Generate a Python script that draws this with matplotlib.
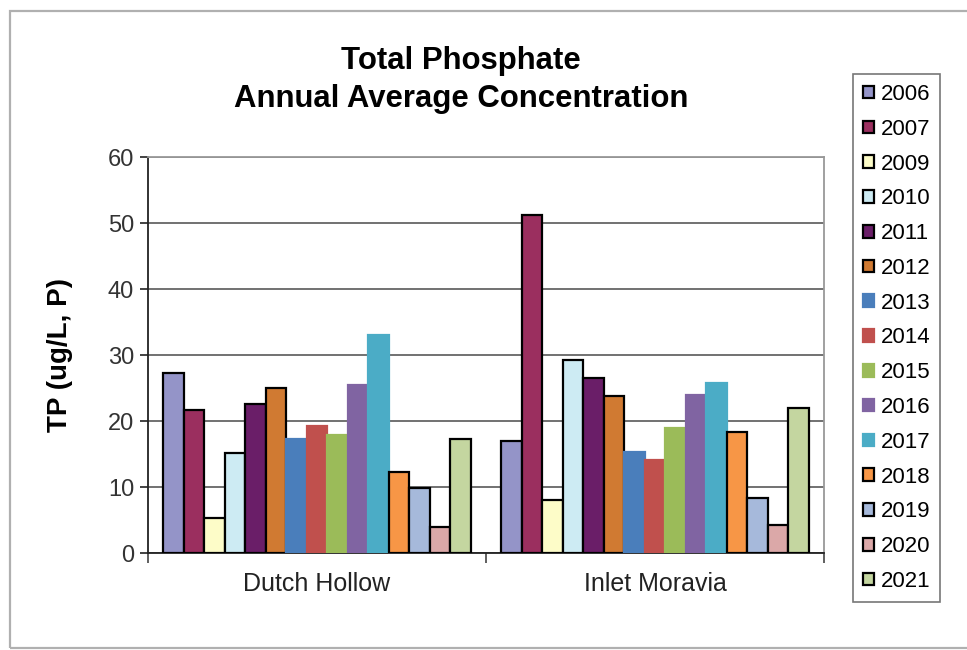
#!/usr/bin/env python

import matplotlib
matplotlib.use("Agg")
import matplotlib.pyplot as plt
from matplotlib.patches import Rectangle
import numpy as np

plt.rcParams['font.family'] = ['Liberation Sans', 'DejaVu Sans']

SITES = ['Dutch Hollow', 'Inlet Moravia']
YEARS = ['2006', '2007', '2009', '2010', '2011', '2012', '2013', '2014',
         '2015', '2016', '2017', '2018', '2019', '2020', '2021']
DUTCH_HOLLOW = [27.3, 21.7, 5.3, 15.1, 22.6, 25.0, 17.3, 19.2,
                17.9, 25.4, 33.0, 12.2, 9.8, 3.9, 17.3]
INLET_MORAVIA = [16.9, 51.2, 8.1, 29.3, 26.5, 23.8, 15.3, 14.1,
                 19.0, 24.0, 25.7, 18.4, 8.4, 4.2, 21.9]
COLORES = ['#9494c8', '#9b2f5f', '#fdfcc8', '#cdebf3', '#6a1e68', '#d07a32',
           '#4a7ebb', '#c0504d', '#9bbb59', '#8064a2', '#4bacc6', '#f79646',
           '#a6b9db', '#dba8a8', '#c4d6a0']
# años sin borde negro
SIN_BORDE = ['2013', '2014', '2015', '2016', '2017']


def generar_grafica():
    fig = plt.figure(figsize=(9.67, 6.5), dpi=100)
    ax = fig.add_axes([148 / 967, 1 - 553 / 650, 676 / 967, 396 / 650])

    x = np.arange(len(SITES))
    ancho = 0.0607
    n = len(YEARS)
    for i, anio in enumerate(YEARS):
        valores = [DUTCH_HOLLOW[i], INLET_MORAVIA[i]]
        borde = COLORES[i] if anio in SIN_BORDE else 'black'
        ax.bar(x + (i - (n - 1) / 2) * ancho, valores, ancho,
               color=COLORES[i], edgecolor=borde, linewidth=1.6,
               label=anio, zorder=3)

    ax.set_xlim(-0.5, 1.5)
    ax.set_ylim(0, 60)
    ax.set_yticks(range(0, 61, 10))
    ax.yaxis.grid(True, color='#666666', linewidth=1.3, zorder=0)
    ax.tick_params(axis='y', labelsize=17, length=6, width=1.2, direction='out',
                   pad=4, colors='#222222', labelcolor='#333333')

    ax.set_xticks(x)
    ax.set_xticklabels(SITES, fontsize=18, color='#222222')
    ax.tick_params(axis='x', length=0, pad=14)
    ax.set_xticks([-0.5, 0.5, 1.5], minor=True)
    ax.tick_params(axis='x', which='minor', length=7, width=1.2, color='#444444')

    for lado in ['top', 'right']:
        ax.spines[lado].set_color('#999999')
        ax.spines[lado].set_linewidth(1.3)
    for lado in ['left', 'bottom']:
        ax.spines[lado].set_color('#222222')
        ax.spines[lado].set_linewidth(1.3)

    ax.set_ylabel('TP (ug/L, P)', fontsize=20, fontweight='bold')
    ax.yaxis.set_label_coords(-0.111, 0.5)

    fig.text(461 / 967, 1 - 61 / 650, 'Total Phosphate', ha='center', va='center',
             fontsize=22.4, fontweight='bold')
    fig.text(461 / 967, 1 - 99 / 650, 'Annual Average Concentration', ha='center',
             va='center', fontsize=22.4, fontweight='bold')

    leg = fig.legend(loc='upper left', bbox_to_anchor=(853 / 967, 1 - 74 / 650),
                     fontsize=16, frameon=True, fancybox=False, borderaxespad=0,
                     handlelength=0.5, handleheight=0.5, handletextpad=0.3,
                     labelspacing=0.62, borderpad=0.45)
    leg.get_frame().set_edgecolor('#555555')
    leg.get_frame().set_linewidth(1.2)

    # marco exterior de la gráfica
    fig.patches.append(Rectangle((10 / 967, 2 / 650), 1.0, 637 / 650,
                                 transform=fig.transFigure, fill=False,
                                 edgecolor='#b0b0b0', linewidth=1.6))

    fig.savefig('out.png', dpi=100)


if __name__ == "__main__":
    generar_grafica()
